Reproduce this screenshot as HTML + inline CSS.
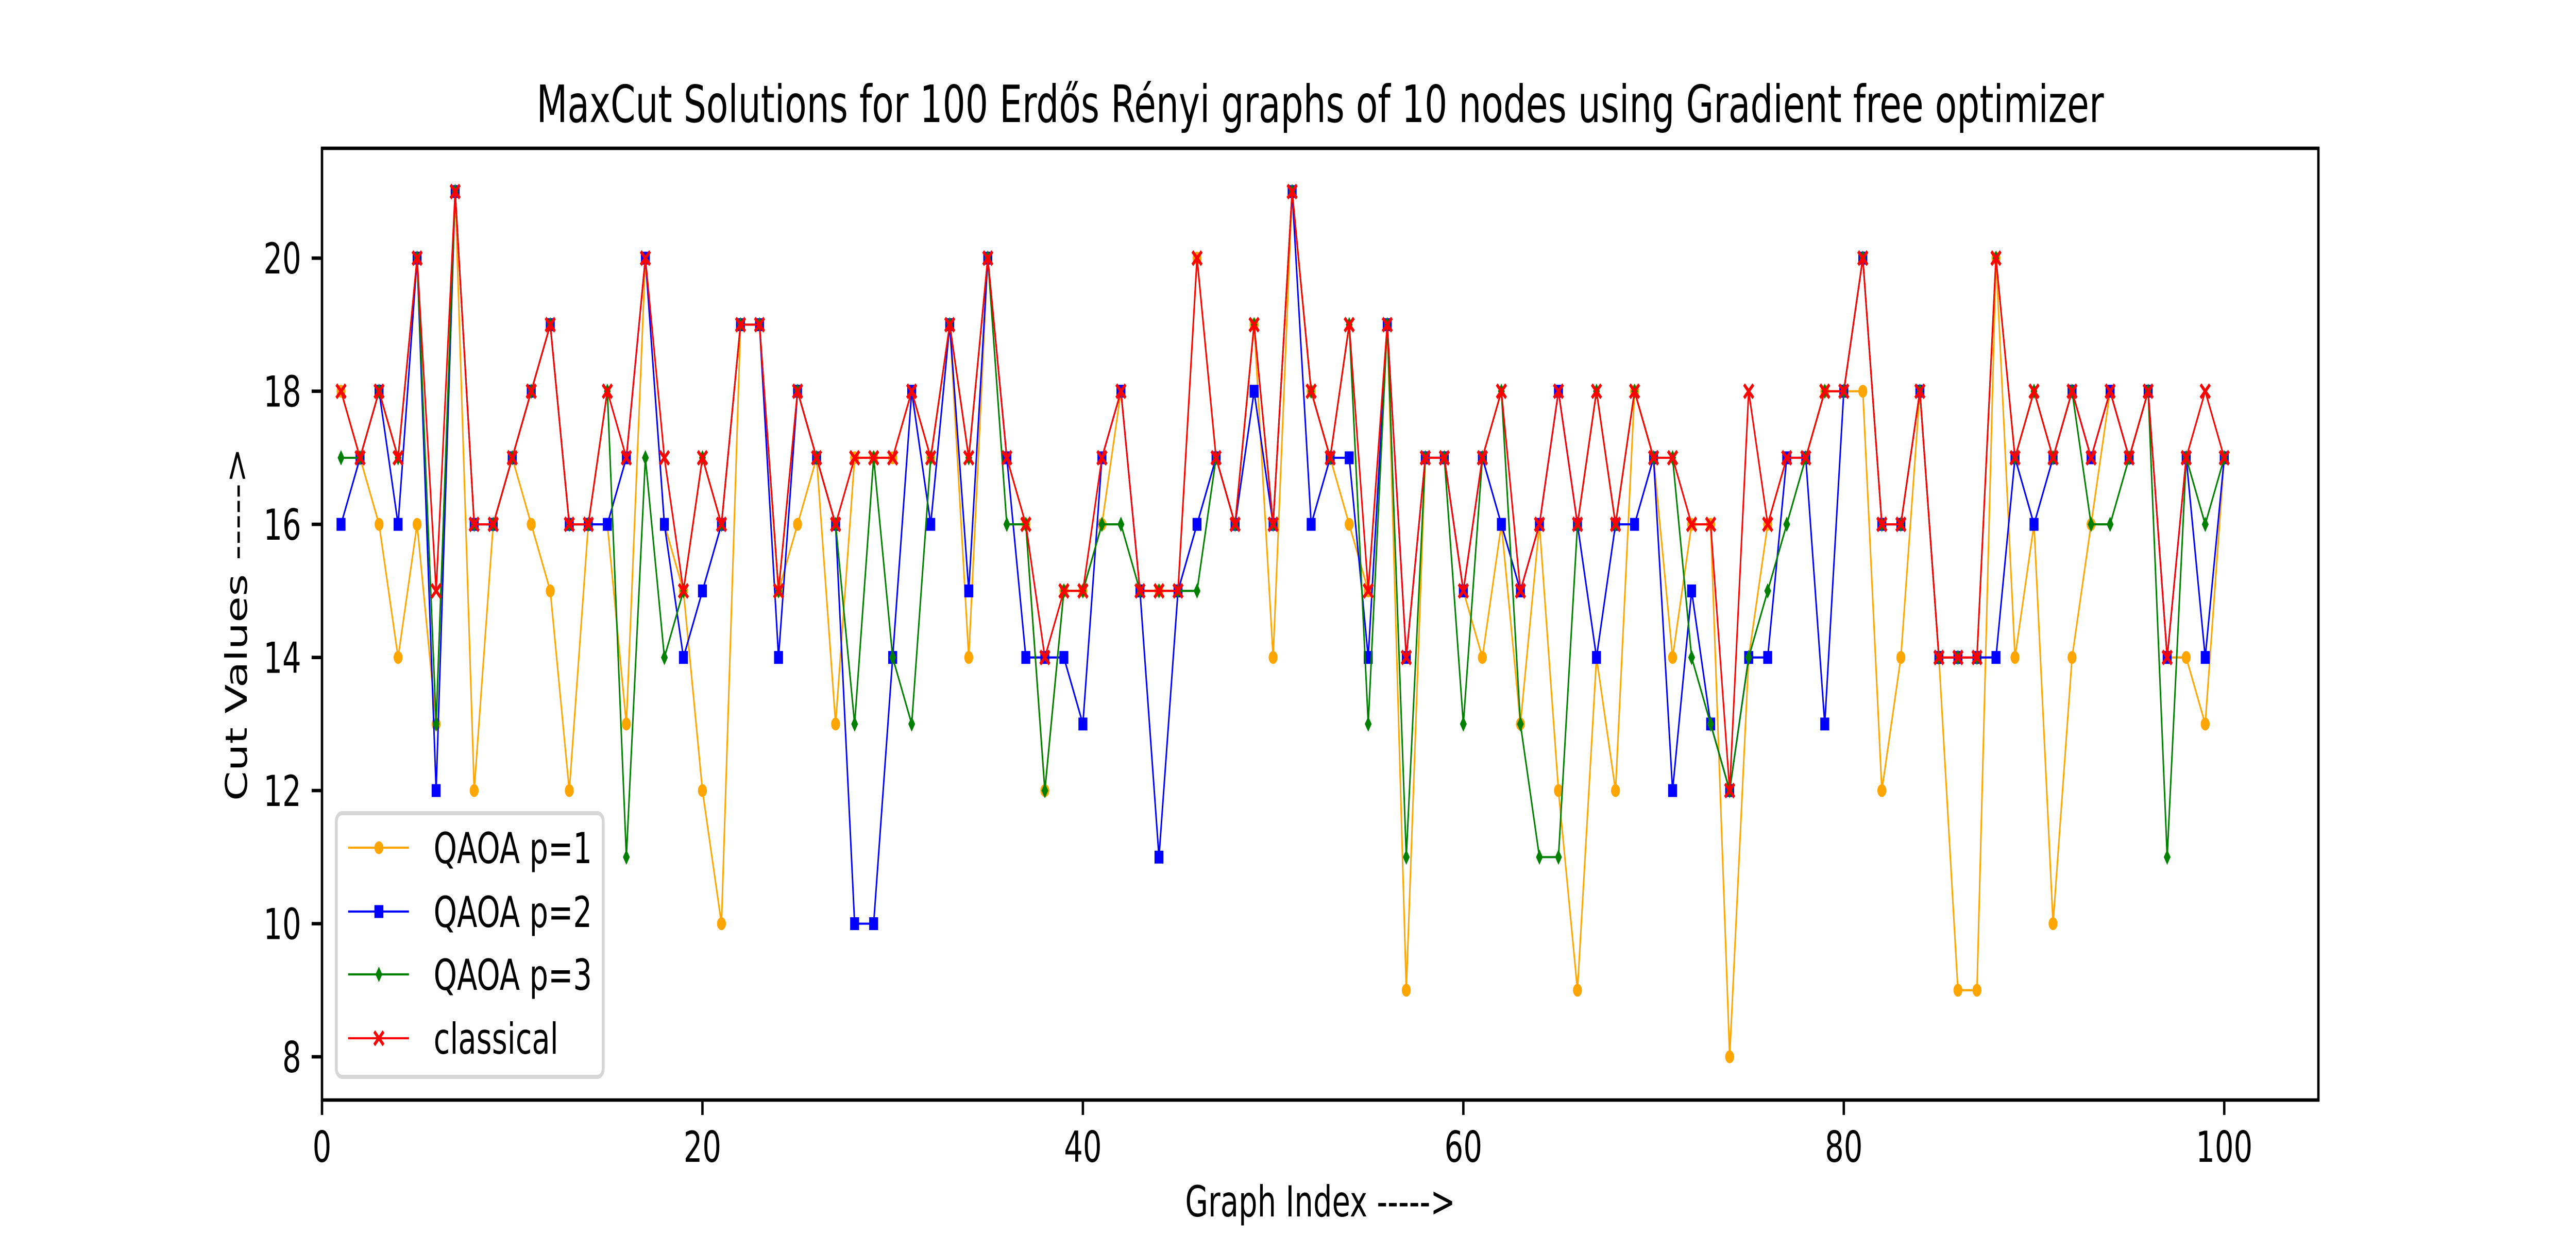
<!DOCTYPE html>
<html><head><meta charset="utf-8"><title>MaxCut chart</title>
<style>html,body{margin:0;padding:0;background:#fff;overflow:hidden;width:100%;height:100%}svg{display:block;width:100vw;height:100vh}text{font-family:"DejaVu Sans","Liberation Sans",sans-serif;fill:#000}</style>
</head><body>
<svg id="chart" xmlns="http://www.w3.org/2000/svg" viewBox="0 0 7200 2400" preserveAspectRatio="none">
<rect width="7200" height="2400" fill="#fff"/>
<text x="3690" y="237" font-size="100" text-anchor="middle">MaxCut Solutions for 100 Erdős Rényi graphs of 10 nodes using Gradient free optimizer</text>
<g id="plot"></g>
<rect x="900" y="288" width="5580" height="1848" fill="none" stroke="#000" stroke-width="6.7"/>
<g id="ticks"></g>
<text x="3690" y="2362" font-size="83" text-anchor="middle">Graph Index -----&gt;</text>
<text x="690" y="1212" font-size="83" text-anchor="middle" transform="rotate(-90 690 1212)">Cut Values -----&gt;</text>
<g id="legend">
<rect x="940" y="1579" width="746" height="512" rx="16" fill="#fff" fill-opacity="0.85" stroke="#d6d6d6" stroke-width="8"/>
</g>
</svg>
<script>
const graphIndex = Array.from({length:100}, (_, i) => i + 1);
const qaoaP1 = [18,17,16,14,16,13,21,12,16,17, 16,15,12,16,16,13,20,16,15,12, 10,19,19,15,16,17,13,17,17,17, 18,17,19,14,20,17,16,12,15,15, 16,18,15,15,15,20,17,16,19,14, 21,18,17,16,15,19,9,17,17,15, 14,16,13,16,12,9,14,12,18,17, 14,16,16,8,14,16,17,17,18,18, 18,12,14,18,14,9,9,20,14,16, 10,14,16,18,17,18,14,14,13,17];
const qaoaP2 = [16,17,18,16,20,12,21,16,16,17, 18,19,16,16,16,17,20,16,14,15, 16,19,19,14,18,17,16,10,10,14, 18,16,19,15,20,17,14,14,14,13, 17,18,15,11,15,16,17,16,18,16, 21,16,17,17,14,19,14,17,17,15, 17,16,15,16,18,16,14,16,16,17, 12,15,13,12,14,14,17,17,13,18, 20,16,16,18,14,14,14,14,17,16, 17,18,17,18,17,18,14,17,14,17];
const qaoaP3 = [17,17,18,17,20,13,21,16,16,17, 18,19,16,16,18,11,17,14,15,17, 16,19,19,15,18,17,16,13,17,14, 13,17,19,17,20,16,16,12,15,15, 16,16,15,15,15,15,17,16,19,16, 21,18,17,19,13,19,11,17,17,13, 17,18,13,11,11,16,18,16,18,17, 17,14,13,12,14,15,16,17,18,18, 20,16,16,18,14,14,14,20,17,18, 17,18,16,16,17,18,11,17,16,17];
const classical = [18,17,18,17,20,15,21,16,16,17, 18,19,16,16,18,17,20,17,15,17, 16,19,19,15,18,17,16,17,17,17, 18,17,19,17,20,17,16,14,15,15, 17,18,15,15,15,20,17,16,19,16, 21,18,17,19,15,19,14,17,17,15, 17,18,15,16,18,16,18,16,18,17, 17,16,16,12,18,16,17,17,18,18, 20,16,16,18,14,14,14,20,17,18, 17,18,17,18,17,18,14,17,18,17];
const seriesLabels = ["QAOA p=1","QAOA p=2","QAOA p=3","classical"];
const xTicks = [0,20,40,60,80,100];
const yTicks = [8,10,12,14,16,18,20];

const NS = "http://www.w3.org/2000/svg";
const X0=900, X1=6480, Y0=2136, Y1=288;
const xMin=0, xMax=104.95, yMin=7.35, yMax=21.65;
function xs(v){return X0+(v-xMin)/(xMax-xMin)*(X1-X0);}
function ys(v){return Y0-(v-yMin)/(yMax-yMin)*(Y0-Y1);}
function mk(tag, attrs, parent){const e=document.createElementNS(NS,tag);for(const k in attrs)e.setAttribute(k,attrs[k]);parent.appendChild(e);return e;}

const styles=[{c:"#ffa500",m:"o",n:"qaoa-p1"},{c:"#0000ff",m:"s",n:"qaoa-p2"},{c:"#008000",m:"d",n:"qaoa-p3"},{c:"#ff0000",m:"x",n:"classical"}];
function marker(type,cx,cy,color,parent){
  let e;
  if(type==="o"){e=mk("circle",{cx:cx,cy:cy,r:12.5,fill:color},parent);}
  else if(type==="s"){e=mk("rect",{x:cx-12.5,y:cy-12.5,width:25,height:25,fill:color},parent);}
  else if(type==="d"){e=mk("polygon",{points:`${cx},${cy-15} ${cx+9.5},${cy} ${cx},${cy+15} ${cx-9.5},${cy}`,fill:color},parent);}
  else {e=mk("path",{d:`M${cx-13},${cy-13}L${cx+13},${cy+13}M${cx-13},${cy+13}L${cx+13},${cy-13}`,stroke:color,"stroke-width":7,fill:"none"},parent);}
  return e;
}
const plot=document.getElementById("plot");
[qaoaP1,qaoaP2,qaoaP3,classical].forEach((vals,si)=>{
  const st=styles[si];
  const g=mk("g",{},plot);
  
  
  const pts=vals.map((v,i)=>xs(graphIndex[i])+","+ys(v)).join(" ");
  const line=mk("polyline",{points:pts,fill:"none",stroke:st.c,"stroke-width":4.2,"stroke-linejoin":"round"},g);
  
  
  vals.forEach((v,i)=>{
    const m=marker(st.m,xs(graphIndex[i]),ys(v),st.c,g);
    
    
  });
});
const ticks=document.getElementById("ticks");
xTicks.forEach(t=>{
  const l=mk("line",{x1:xs(t),x2:xs(t),y1:Y0,y2:Y0+29,stroke:"#000","stroke-width":6.7},ticks);
  
  
  const tx=mk("text",{x:xs(t),y:Y0+29+29+62,"font-size":83,"text-anchor":"middle"},ticks);
  tx.textContent=String(t);
  
  
});
yTicks.forEach(t=>{
  const l=mk("line",{x1:X0-29,x2:X0,y1:ys(t),y2:ys(t),stroke:"#000","stroke-width":6.7},ticks);
  
  
  const tx=mk("text",{x:X0-29-29,y:ys(t)+30,"font-size":83,"text-anchor":"end"},ticks);
  tx.textContent=String(t);
  
  
});
const legend=document.getElementById("legend");
const rowsY=[1646,1770,1892,2016];
seriesLabels.forEach((lab,i)=>{
  const st=styles[i];
  const g=mk("g",{},legend);
  
  
  mk("line",{x1:973,x2:1143,y1:rowsY[i],y2:rowsY[i],stroke:st.c,"stroke-width":4.2},g);
  marker(st.m,1059,rowsY[i],st.c,g);
  const tx=mk("text",{x:1212,y:rowsY[i]+30,"font-size":83},g);
  tx.textContent=lab;
});
</script>
</body></html>
